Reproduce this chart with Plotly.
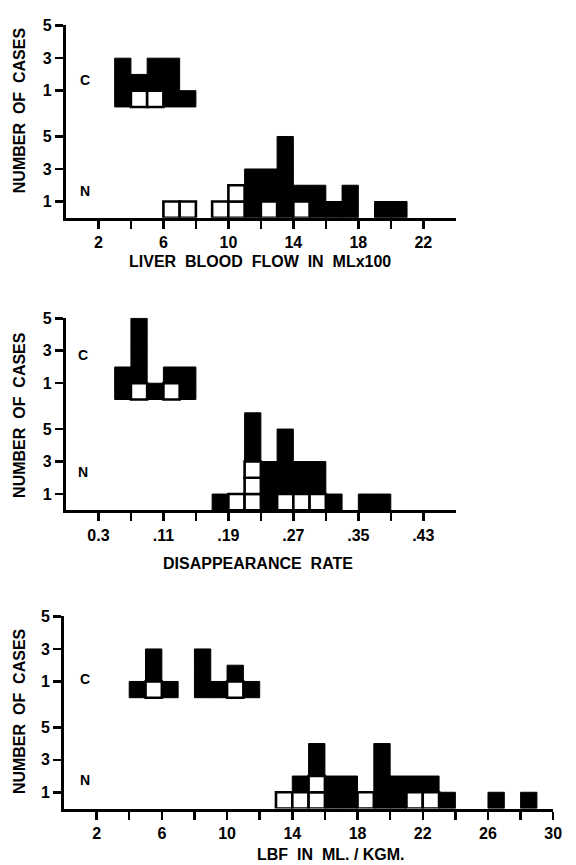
import plotly.graph_objects as go

# ---------------- data ----------------
# Panel 1: liver blood flow (ML x 100), bins of width 1 (bin start values)
flow_bin_start = [3, 4, 5, 6, 7, 8, 9, 10, 11, 12, 13, 14, 15, 16, 17, 18, 19, 20]
flow_c_open    = [0, 1, 1, 0, 0, 0, 0, 0, 0, 0, 0, 0, 0, 0, 0, 0, 0, 0]
flow_c_solid   = [3, 1, 2, 3, 1, 0, 0, 0, 0, 0, 0, 0, 0, 0, 0, 0, 0, 0]
flow_n_open    = [0, 0, 0, 1, 1, 0, 1, 2, 0, 1, 0, 1, 0, 0, 0, 0, 0, 0]
flow_n_solid   = [0, 0, 0, 0, 0, 0, 0, 0, 3, 2, 5, 1, 2, 1, 2, 0, 1, 1]
flow_ticks     = [2, 4, 6, 8, 10, 12, 14, 16, 18, 20, 22]
flow_ticktext  = ["2", "", "6", "", "10", "", "14", "", "18", "", "22"]

# Panel 2: disappearance rate, bins of width 0.02
rate_bin_start = [0.05, 0.07, 0.09, 0.11, 0.13, 0.15, 0.17, 0.19, 0.21, 0.23,
                  0.25, 0.27, 0.29, 0.31, 0.33, 0.35, 0.37]
rate_c_open    = [0, 1, 0, 1, 0, 0, 0, 0, 0, 0, 0, 0, 0, 0, 0, 0, 0]
rate_c_solid   = [2, 4, 1, 1, 2, 0, 0, 0, 0, 0, 0, 0, 0, 0, 0, 0, 0]
rate_n_open    = [0, 0, 0, 0, 0, 0, 0, 1, 3, 0, 1, 1, 1, 0, 0, 0, 0]
rate_n_solid   = [0, 0, 0, 0, 0, 0, 1, 0, 3, 3, 4, 2, 2, 1, 0, 1, 1]
rate_ticks     = [0.03, 0.07, 0.11, 0.15, 0.19, 0.23, 0.27, 0.31, 0.35, 0.39, 0.43]
rate_ticktext  = ["0.3", "", ".11", "", ".19", "", ".27", "", ".35", "", ".43"]

# Panel 3: LBF in ml/kgm, bins of width 1
kg_bin_start = [4, 5, 6, 7, 8, 9, 10, 11, 12, 13, 14, 15, 16, 17, 18, 19, 20,
                21, 22, 23, 24, 25, 26, 27, 28]
kg_c_open    = [0, 1, 0, 0, 0, 0, 1, 0, 0, 0, 0, 0, 0, 0, 0, 0, 0, 0, 0, 0, 0, 0, 0, 0, 0]
kg_c_solid   = [1, 2, 1, 0, 3, 1, 1, 1, 0, 0, 0, 0, 0, 0, 0, 0, 0, 0, 0, 0, 0, 0, 0, 0, 0]
kg_n_open    = [0, 0, 0, 0, 0, 0, 0, 0, 0, 1, 1, 2, 0, 0, 1, 0, 0, 1, 1, 0, 0, 0, 0, 0, 0]
kg_n_solid   = [0, 0, 0, 0, 0, 0, 0, 0, 0, 0, 1, 2, 2, 2, 0, 4, 2, 1, 1, 1, 0, 0, 1, 0, 1]
kg_ticks     = [2, 4, 6, 8, 10, 12, 14, 16, 18, 20, 22, 24, 26, 28, 30]
kg_ticktext  = ["2", "", "6", "", "10", "", "14", "", "18", "", "22", "", "26", "", "30"]

count_ticks = [1, 3, 5]
x_titles = ["LIVER  BLOOD  FLOW  IN  MLx100", "DISAPPEARANCE  RATE", "LBF  IN  ML. / KGM."]
y_title = "NUMBER  OF  CASES"

# ---------------- layout constants ----------------
W, H = 576, 865
C_OFFSET = 6.82          # vertical offset (in case units) of the C histogram
Y_TOP = 11.85
UNIT_PX = 16.4
baselines_px = [211.7, 507.0, 808.0]
x_domains_px = [(67, 463), (67, 463), (65, 562)]
x_ranges = [[0, 24], [-0.01, 0.47], [0, 30]]
bin_widths = [1, 0.02, 1]

FONT = "Liberation Sans"


def px_x(p):
    return p / W


def px_y(p):
    return 1 - p / H


def squares(starts, opens, solids, width, base0):
    ox, ob, sx, sb = [], [], [], []
    for s, o, k in zip(starts, opens, solids):
        for i in range(o):
            ox.append(s + width / 2)
            ob.append(base0 + i)
        for i in range(k):
            sx.append(s + width / 2)
            sb.append(base0 + o + i)
    return ox, ob, sx, sb


panels = [
    (flow_bin_start, flow_c_open, flow_c_solid, flow_n_open, flow_n_solid, flow_ticks, flow_ticktext),
    (rate_bin_start, rate_c_open, rate_c_solid, rate_n_open, rate_n_solid, rate_ticks, rate_ticktext),
    (kg_bin_start, kg_c_open, kg_c_solid, kg_n_open, kg_n_solid, kg_ticks, kg_ticktext),
]

fig = go.Figure()
layout = dict(
    width=W, height=H,
    margin=dict(l=0, r=0, t=0, b=0),
    paper_bgcolor="white", plot_bgcolor="white",
    showlegend=False, barmode="overlay",
    font=dict(family=FONT, color="black"),
)
annotations = []

cn_label_pos = [  # (x px, C y px, N y px)
    (86.5, 72.5, 184.5),
    (84.0, 350.0, 468.0),
    (86.5, 677.0, 779.0),
]
y_title_pos = [(20, 103.5), (20, 411), (20, 710)]
x_title_pos = [(264, 255.5), (262, 560.5), (336, 854)]

for i, (starts, c_o, c_s, n_o, n_s, ticks, ticktext) in enumerate(panels):
    k = "" if i == 0 else str(i + 1)
    xa, ya = "x" + k, "y" + k
    w = bin_widths[i]
    for (op, so, b0) in [(c_o, c_s, C_OFFSET), (n_o, n_s, 0)]:
        ox, ob, sx, sb = squares(starts, op, so, w, b0)
        fig.add_trace(go.Bar(x=sx, y=[1] * len(sx), base=sb, width=w,
                             marker=dict(color="black", line=dict(color="black", width=1)),
                             opacity=1, xaxis=xa, yaxis=ya, hoverinfo="skip"))
        fig.add_trace(go.Bar(x=ox, y=[1] * len(ox), base=ob, width=w,
                             marker=dict(color="white", line=dict(color="black", width=2.6)),
                             opacity=1, xaxis=xa, yaxis=ya, hoverinfo="skip"))

    base_px = baselines_px[i]
    top_px = base_px - Y_TOP * UNIT_PX
    x0, x1 = x_domains_px[i]
    layout["xaxis" + k] = dict(
        domain=[px_x(x0), px_x(x1)], range=x_ranges[i], anchor=ya,
        showline=True, linecolor="black", linewidth=3,
        ticks="outside", ticklen=8, tickwidth=2.5, tickcolor="black",
        tickvals=ticks, ticktext=ticktext,
        tickfont=dict(family=FONT, size=16, color="black", weight="bold"),
        showgrid=False, zeroline=False, fixedrange=True,
    )
    yvals = count_ticks + [v + C_OFFSET for v in count_ticks]
    layout["yaxis" + k] = dict(
        domain=[px_y(base_px), px_y(top_px)], range=[0, Y_TOP], anchor=xa,
        showline=True, linecolor="black", linewidth=3,
        ticks="outside", ticklen=8, tickwidth=2.5, tickcolor="black",
        tickvals=yvals, ticktext=[str(v) for v in count_ticks] * 2,
        tickfont=dict(family=FONT, size=16, color="black", weight="bold"),
        showgrid=False, zeroline=False, fixedrange=True,
    )

    lx, cy, ny = cn_label_pos[i]
    for txt, yy in [("C", cy), ("N", ny)]:
        annotations.append(dict(text=txt, x=px_x(lx), y=px_y(yy), xref="paper", yref="paper",
                                showarrow=False, xanchor="center", yanchor="middle",
                                font=dict(family=FONT, size=14, color="black", weight="bold")))
    tx, ty = y_title_pos[i]
    annotations.append(dict(text=y_title, x=px_x(tx), y=px_y(ty), xref="paper", yref="paper",
                            showarrow=False, textangle=-90, xanchor="center", yanchor="middle",
                            font=dict(family=FONT, size=16, color="black", weight="bold")))
    tx, ty = x_title_pos[i]
    annotations.append(dict(text=x_titles[i], x=px_x(tx), y=px_y(ty), xref="paper", yref="paper",
                            showarrow=False, xanchor="center", yanchor="middle",
                            font=dict(family=FONT, size=16, color="black", weight="bold")))

layout["annotations"] = annotations
fig.update_layout(**layout)
fig.write_html(
    "out.html",
    config={"displayModeBar": False, "staticPlot": True},
    post_script="document.body.style.margin='0px';document.body.style.overflow='hidden';",
)
